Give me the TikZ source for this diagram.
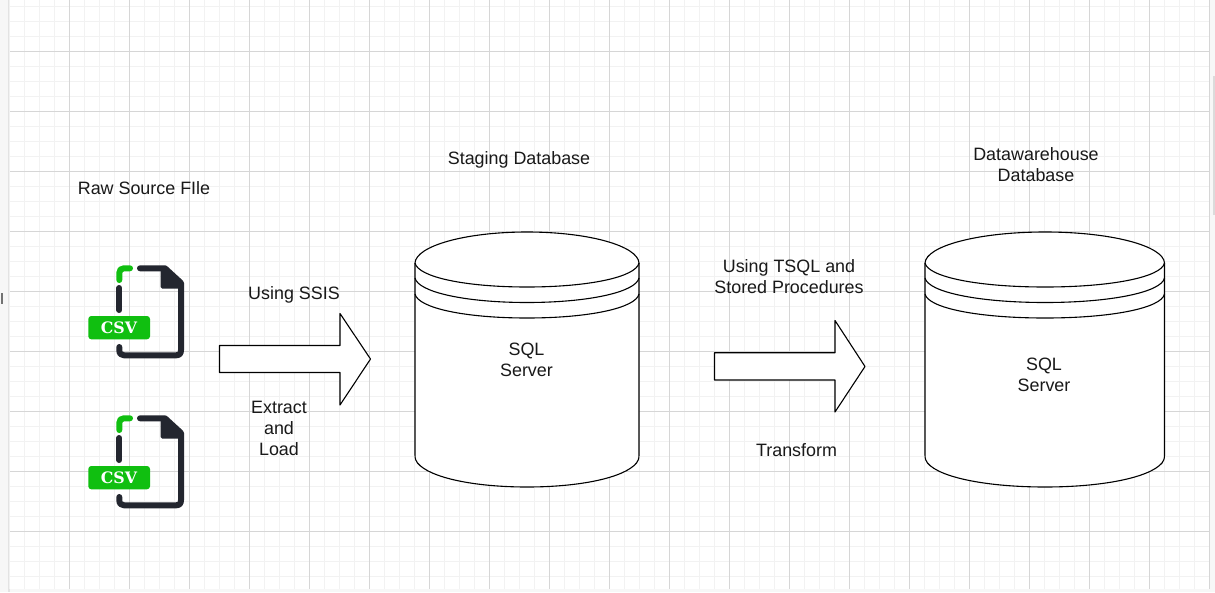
\documentclass[tikz,border=0pt]{standalone}
\usepackage{fontspec}
\usepackage{xcolor}
\setmainfont{Liberation Sans}
\newfontfamily\csvfont{DejaVu Serif}
\definecolor{icondark}{HTML}{23262F}
\definecolor{icongreen}{HTML}{10BF10}
\tikzset{
  minorline/.style={draw=black!5,line width=1pt},
  majorline/.style={draw=black!16,line width=1pt},
  shapeline/.style={draw=black,fill=white,line width=1.1pt,line join=round},
  arcline/.style={draw=black,line width=1.1pt},
  label/.style={align=center,inner sep=0pt,font=\fontsize{17.9}{21}\selectfont,text=black!90},
  iconstroke/.style={line width=6pt,line cap=round,line join=round}
}
\begin{document}
\begin{tikzpicture}[x=1pt,y=-1pt]
\useasboundingbox (0,0) rectangle (1215,592);
% page and grid
\fill[black!3] (0,0) rectangle (1215,592);
\fill[black!11] (8,0) rectangle (10,592);
\fill[white] (10,0) rectangle (1209.5,589);
\foreach \gx in {0,15,...,1200}
  \draw[minorline] (9.5+\gx,0) -- (9.5+\gx,589);
\foreach \gy in {6.5,21.5,...,589}
  \draw[minorline] (10,\gy) -- (1209.5,\gy);
\foreach \gx in {60,120,...,1200}
  \draw[majorline] (9.5+\gx,0) -- (9.5+\gx,589);
\foreach \gy in {51.5,111.5,...,589}
  \draw[majorline] (10,\gy) -- (1209.5,\gy);
\fill[black!14] (1213,76) rectangle (1215,215);
\fill[black!55] (1,293) rectangle (2.6,304);
% first file icon
\draw[iconstroke,icongreen] (119.3,280) -- (119.3,273) .. controls (119.3,270) and (121,268.3) .. (124,268.3) -- (130,268.3);
\draw[iconstroke,icondark] (119.3,288) -- (119.3,310);
\draw[iconstroke,icondark] (119.3,347) -- (119.3,350) .. controls (119.3,353.5) and (121,355.3) .. (124,355.3) -- (176,355.3) .. controls (179.5,355.3) and (181,353.5) .. (181,350) -- (181,283) -- (165,268.3) -- (140,268.3);
\fill[icondark,rounded corners=1.5pt] (160.7,266) -- (165,266) -- (183,282) -- (183,288.5) -- (160.7,288.5) -- cycle;
\fill[icongreen,rounded corners=3pt] (88.3,316) rectangle (150,339.3);
\node[text=white] (csvone) at (119,328) {\csvfont\bfseries\fontsize{15.8}{16}\selectfont CSV};
% second file icon
\begin{scope}[yshift=-150pt]
\draw[iconstroke,icongreen] (119.3,280) -- (119.3,273) .. controls (119.3,270) and (121,268.3) .. (124,268.3) -- (130,268.3);
\draw[iconstroke,icondark] (119.3,288) -- (119.3,310);
\draw[iconstroke,icondark] (119.3,347) -- (119.3,350) .. controls (119.3,353.5) and (121,355.3) .. (124,355.3) -- (176,355.3) .. controls (179.5,355.3) and (181,353.5) .. (181,350) -- (181,283) -- (165,268.3) -- (140,268.3);
\fill[icondark,rounded corners=1.5pt] (160.7,266) -- (165,266) -- (183,282) -- (183,288.5) -- (160.7,288.5) -- cycle;
\fill[icongreen,rounded corners=3pt] (88.3,316) rectangle (150,339.3);
\node[text=white] (csvtwo) at (119,328) {\csvfont\bfseries\fontsize{15.8}{16}\selectfont CSV};
\end{scope}
% first block arrow
\path[shapeline] (219.5,345.5) -- (340,345.5) -- (340,313.5) -- (370.5,359) -- (340,405) -- (340,372.5) -- (219.5,372.5) -- cycle;
% second block arrow
\path[shapeline] (714.5,352.7) -- (835,352.7) -- (835,320.5) -- (865,366.5) -- (835,412) -- (835,380) -- (714.5,380) -- cycle;
% staging cylinder
\path[shapeline] (415,263) .. controls (416,246) and (465,232) .. (527,232) .. controls (589,232) and (638,246) .. (639,263) -- (639,455) .. controls (639,459) and (638,461) .. (636.5,463) .. controls (624,478) and (579,487) .. (527,487) .. controls (475,487) and (430,478) .. (417.5,463) .. controls (416,461) and (415,459) .. (415,455) -- cycle;
\draw[arcline] (415,263) .. controls (418,277) and (465,287) .. (527,287) .. controls (589,287) and (636,277) .. (639,263);
\draw[arcline] (415,278) .. controls (418,292) and (465,302.5) .. (527,302.5) .. controls (589,302.5) and (636,292) .. (639,278);
\draw[arcline] (415,294) .. controls (418,308) and (465,318) .. (527,318) .. controls (589,318) and (636,308) .. (639,294);
% warehouse cylinder
\path[shapeline] (925,263) .. controls (926,246) and (978,232) .. (1045,232) .. controls (1112,232) and (1163.5,246) .. (1164.5,263) -- (1164.5,455) .. controls (1164.5,459) and (1163.5,461) .. (1162,463) .. controls (1149,478) and (1101,487) .. (1045,487) .. controls (989,487) and (940,478) .. (927.5,463) .. controls (926,461) and (925,459) .. (925,455) -- cycle;
\draw[arcline] (925,263) .. controls (928,277) and (978,287) .. (1045,287) .. controls (1112,287) and (1161.5,277) .. (1164.5,263);
\draw[arcline] (925,278) .. controls (928,292) and (978,302.5) .. (1045,302.5) .. controls (1112,302.5) and (1161.5,292) .. (1164.5,278);
\draw[arcline] (925,294) .. controls (928,308) and (978,318) .. (1045,318) .. controls (1112,318) and (1161.5,308) .. (1164.5,294);
% labels
\node[label] (rawsource) at (144,188) {Raw Source FIle};
\node[label] (stagingtitle) at (519,159.5) {Staging Database};
\node[label] (warehousetitle) at (1036,165) {Datawarehouse\\Database};
\node[label] (usingssis) at (294,294.5) {Using SSIS};
\node[label] (extractload) at (279,428) {Extract\\and\\Load};
\node[label] (stagingsql) at (526.5,360) {SQL\\Server};
\node[label] (usingtsql) at (789,277) {Using TSQL and\\Stored Procedures};
\node[label] (transformlabel) at (796.5,450) {Transform};
\node[label] (warehousesql) at (1044,375) {SQL\\Server};
\end{tikzpicture}
\end{document}
